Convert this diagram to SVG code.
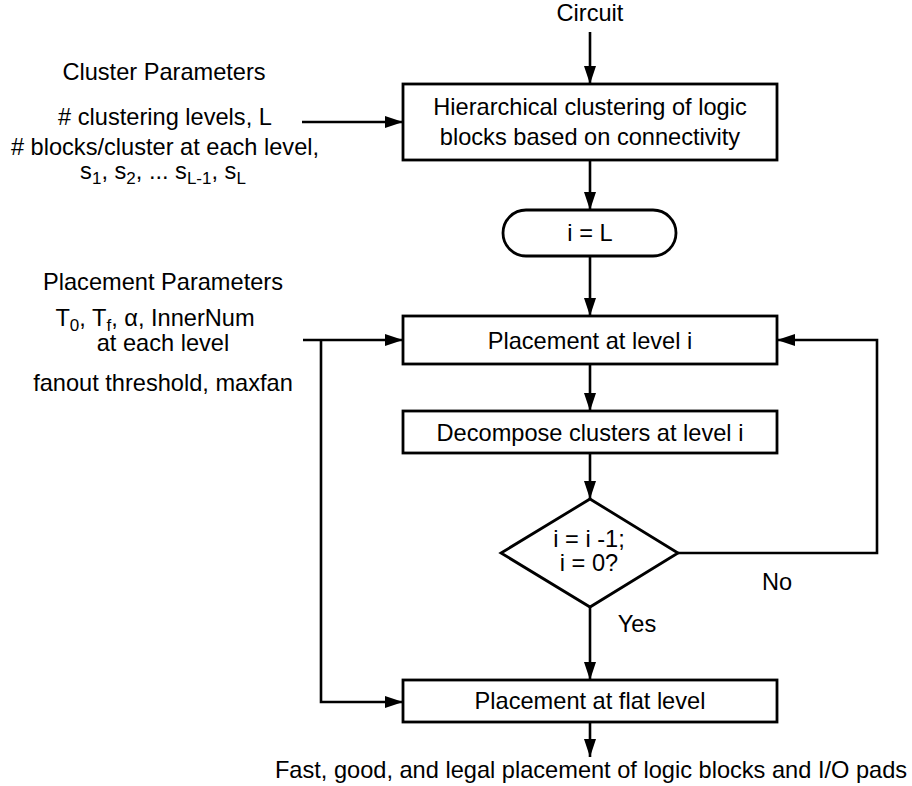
<svg xmlns="http://www.w3.org/2000/svg" width="912" height="786" viewBox="0 0 912 786">
<defs>
<style>
text{font-family:"Liberation Sans",Arial,sans-serif;font-size:23.6px;fill:#000;text-anchor:middle}
.box{fill:#fff;stroke:#000;stroke-width:2.8}
.ln{fill:none;stroke:#000;stroke-width:2.6}
.sub{font-size:17px}
</style>
<marker id="ah" markerUnits="userSpaceOnUse" markerWidth="18" markerHeight="12" refX="18" refY="6" orient="auto">
<path d="M0,0 L18,6 L0,12 z" fill="#000"/>
</marker>
</defs>
<rect width="912" height="786" fill="#fff"/>
<g id="connectors">
<path class="ln" d="M590,32 V84" marker-end="url(#ah)"/>
<path class="ln" d="M590,160 V210" marker-end="url(#ah)"/>
<path class="ln" d="M590,256 V316" marker-end="url(#ah)"/>
<path class="ln" d="M590,364 V411" marker-end="url(#ah)"/>
<path class="ln" d="M590,453 V499" marker-end="url(#ah)"/>
<path class="ln" d="M590,607 V680" marker-end="url(#ah)"/>
<path class="ln" d="M590,722 V757" marker-end="url(#ah)"/>
<path class="ln" d="M678,553 H877 V340 H777" marker-end="url(#ah)"/>
<path class="ln" d="M302,122 H403" marker-end="url(#ah)"/>
<path class="ln" d="M303,340 H403" marker-end="url(#ah)"/>
<path class="ln" d="M321,340 V702 H403" marker-end="url(#ah)"/>
<text x="777" y="590">No</text>
<text x="637" y="632">Yes</text>
</g>
<g id="circuit"><text x="590" y="21">Circuit</text></g>
<g id="cluster-params">
<text x="164" y="80">Cluster Parameters</text>
<text x="165" y="125"># clustering levels, L</text>
<text x="165" y="155"># blocks/cluster at each level,</text>
<text x="163" y="179">s<tspan class="sub" dy="5">1</tspan><tspan dy="-5">, s</tspan><tspan class="sub" dy="5">2</tspan><tspan dy="-5">, ... s</tspan><tspan class="sub" dy="5">L-1</tspan><tspan dy="-5">, s</tspan><tspan class="sub" dy="5">L</tspan></text>
</g>
<g id="placement-params">
<text x="163" y="290">Placement Parameters</text>
<text x="155" y="326">T<tspan class="sub" dy="5">0</tspan><tspan dy="-5">, T</tspan><tspan class="sub" dy="5">f</tspan><tspan dy="-5">, α, InnerNum</tspan></text>
<text x="163" y="351">at each level</text>
<text x="163" y="391">fanout threshold, maxfan</text>
</g>
<g id="clustering">
<rect class="box" x="403" y="84" width="374" height="76"/>
<text x="590" y="115">Hierarchical clustering of logic</text>
<text x="590" y="145">blocks based on connectivity</text>
</g>
<g id="init">
<rect class="box" x="503" y="210" width="173" height="46" rx="23" ry="23"/>
<text x="590" y="241">i = L</text>
</g>
<g id="place-level">
<rect class="box" x="403" y="316" width="374" height="48"/>
<text x="590" y="349">Placement at level i</text>
</g>
<g id="decompose">
<rect class="box" x="403" y="411" width="374" height="42"/>
<text x="590" y="441">Decompose clusters at level i</text>
</g>
<g id="decision">
<path class="box" d="M590,499 L678,553 L590,607 L501,553 z"/>
<text x="589" y="547">i = i -1;</text>
<text x="589" y="571">i = 0?</text>
</g>
<g id="place-flat">
<rect class="box" x="403" y="680" width="374" height="42"/>
<text x="590" y="709">Placement at flat level</text>
</g>
<g id="result"><text x="591" y="778">Fast, good, and legal placement of logic blocks and I/O pads</text></g>
</svg>
